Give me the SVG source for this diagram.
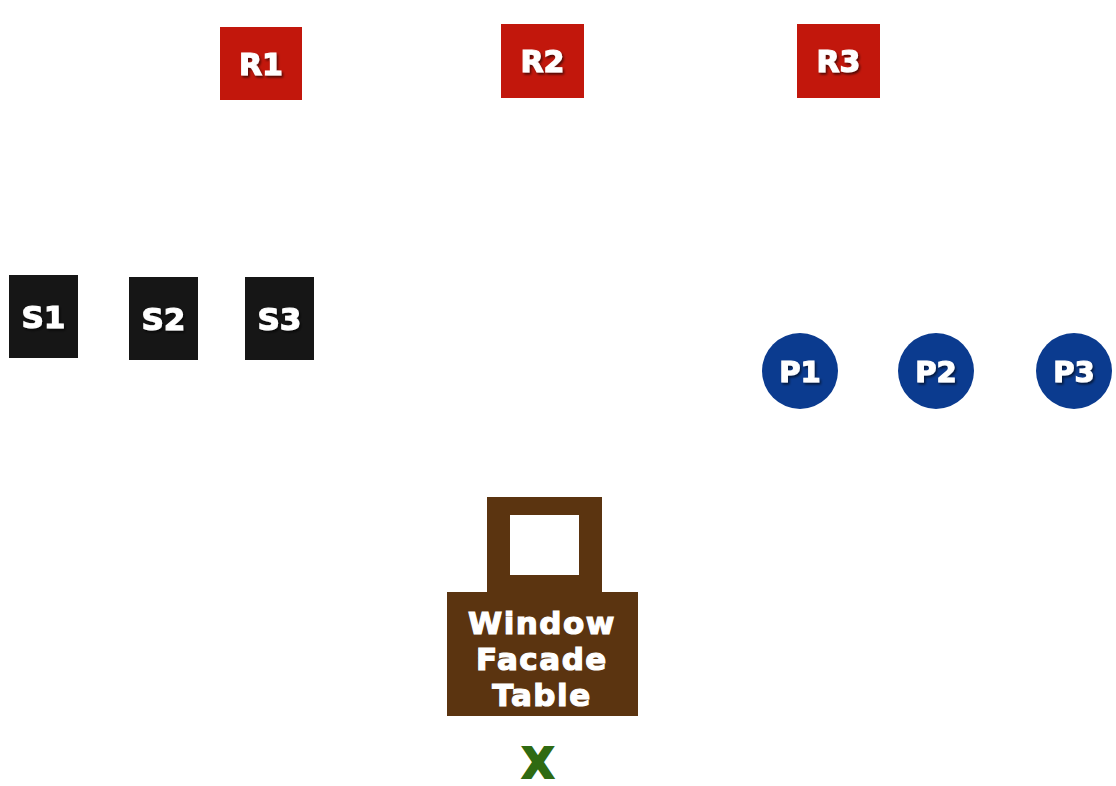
<svg xmlns="http://www.w3.org/2000/svg" width="1116" height="786" viewBox="0 0 1116 786">
<style>
.lbl{font-family:"DejaVu Sans","Liberation Sans",sans-serif;font-weight:bold;fill:#ffffff;stroke:#ffffff;stroke-width:1.2;text-anchor:middle}
.r{fill:#c2170c}
.s{fill:#161616}
.p{fill:#0b3b8f}
.w{fill:#5b3410}
</style>
<defs>
<filter id="sh" x="-20%" y="-20%" width="140%" height="140%">
<feDropShadow dx="1.5" dy="2" stdDeviation="1.2" flood-color="#000" flood-opacity="0.6"/>
</filter>
</defs>
<rect width="1116" height="786" fill="#ffffff"/>
<g id="R1"><rect class="r" x="220" y="27" width="82" height="73"/><text class="lbl" x="261" y="75" font-size="30" filter="url(#sh)">R1</text></g>
<g id="R2"><rect class="r" x="501" y="24" width="83" height="74"/><text class="lbl" x="542.5" y="72" font-size="30" filter="url(#sh)">R2</text></g>
<g id="R3"><rect class="r" x="797" y="24" width="83" height="74"/><text class="lbl" x="838.5" y="72" font-size="30" filter="url(#sh)">R3</text></g>
<g id="S1"><rect class="s" x="9" y="275" width="69" height="83"/><text class="lbl" x="43.5" y="328" font-size="31" filter="url(#sh)">S1</text></g>
<g id="S2"><rect class="s" x="129" y="277" width="69" height="83"/><text class="lbl" x="163.5" y="330" font-size="31" filter="url(#sh)">S2</text></g>
<g id="S3"><rect class="s" x="245" y="277" width="69" height="83"/><text class="lbl" x="279.5" y="330" font-size="31" filter="url(#sh)">S3</text></g>
<g id="P1"><circle class="p" cx="800" cy="371" r="38"/><text class="lbl" x="800" y="382" font-size="29" filter="url(#sh)">P1</text></g>
<g id="P2"><circle class="p" cx="936" cy="371" r="38"/><text class="lbl" x="936" y="382" font-size="29" filter="url(#sh)">P2</text></g>
<g id="P3"><circle class="p" cx="1074" cy="371" r="38"/><text class="lbl" x="1074" y="382" font-size="29" filter="url(#sh)">P3</text></g>
<g id="WindowFacadeTable">
<rect class="w" x="487" y="497" width="115" height="96"/>
<rect fill="#ffffff" x="510" y="515" width="69" height="60"/>
<rect class="w" x="447" y="592" width="191" height="124"/>
<text class="lbl" x="542" y="634" font-size="31" letter-spacing="1.5">Window</text>
<text class="lbl" x="542" y="670" font-size="31" letter-spacing="1.5">Facade</text>
<text class="lbl" x="542" y="706" font-size="31" letter-spacing="1.5">Table</text>
</g>
<g id="X"><text x="538" y="778" font-family="DejaVu Sans,sans-serif" font-weight="bold" font-size="42" fill="#2f6a12" stroke="#2f6a12" stroke-width="2" text-anchor="middle">X</text></g>
<g id="connectors"></g>
</svg>
